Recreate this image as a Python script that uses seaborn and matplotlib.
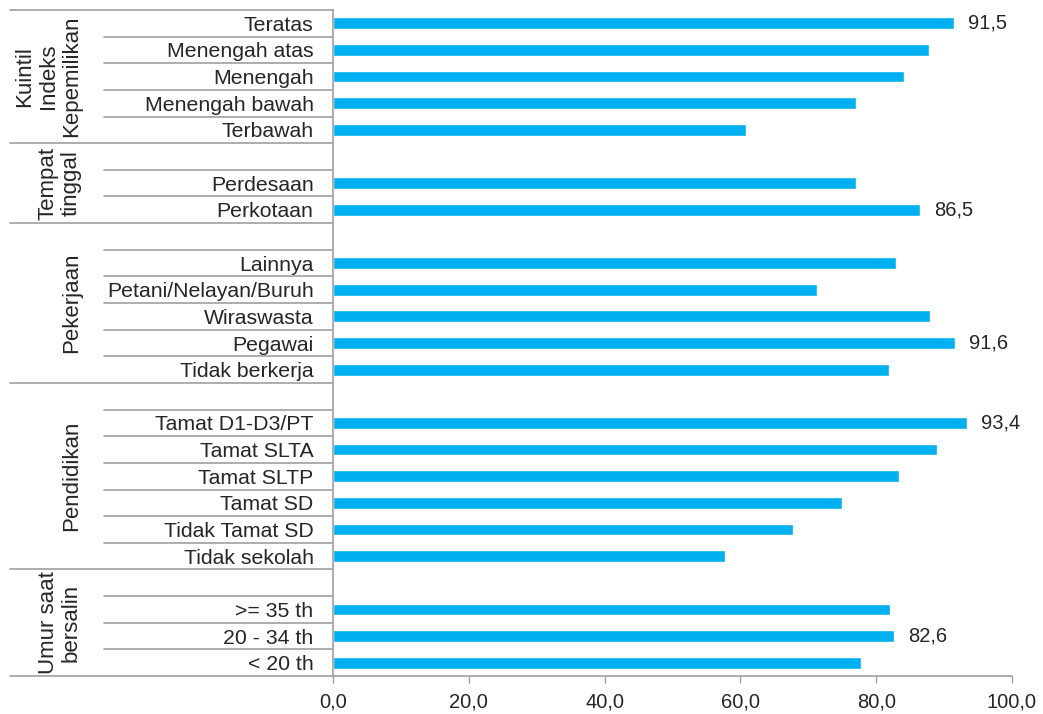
import matplotlib
matplotlib.use("Agg")
import matplotlib.pyplot as plt
import seaborn as sns
import pandas as pd
import numpy as np
from matplotlib.lines import Line2D
from matplotlib.ticker import FuncFormatter, FixedLocator

# ---------------- data ----------------
group_names = ["Kuintil\nIndeks\nKepemilikan", "Tempat\ntinggal", "Pekerjaan",
               "Pendidikan", "Umur saat\nbersalin"]
group_rows = [
    ["Teratas", "Menengah atas", "Menengah", "Menengah bawah", "Terbawah"],
    ["", "Perdesaan", "Perkotaan"],
    [" ", "Lainnya", "Petani/Nelayan/Buruh", "Wiraswasta", "Pegawai", "Tidak berkerja"],
    ["  ", "Tamat D1-D3/PT", "Tamat SLTA", "Tamat SLTP", "Tamat SD", "Tidak Tamat SD",
     "Tidak sekolah"],
    ["   ", ">= 35 th", "20 - 34 th", "< 20 th"],
]
categories = ["Teratas", "Menengah atas", "Menengah", "Menengah bawah", "Terbawah",
              "Perdesaan", "Perkotaan",
              "Lainnya", "Petani/Nelayan/Buruh", "Wiraswasta", "Pegawai", "Tidak berkerja",
              "Tamat D1-D3/PT", "Tamat SLTA", "Tamat SLTP", "Tamat SD", "Tidak Tamat SD",
              "Tidak sekolah",
              ">= 35 th", "20 - 34 th", "< 20 th"]
values = [91.5, 87.8, 84.1, 77.0, 60.8,
          77.0, 86.5,
          82.9, 71.3, 87.9, 91.6, 81.9,
          93.4, 89.0, 83.4, 75.0, 67.8, 57.8,
          82.1, 82.6, 77.7]
labeled = {"Teratas": "91,5", "Perkotaan": "86,5", "Pegawai": "91,6",
           "Tamat D1-D3/PT": "93,4", "20 - 34 th": "82,6"}
xticks = [0, 20, 40, 60, 80, 100]

# ---------------- style ----------------
sns.set_theme(style="white")
plt.rcParams["font.family"] = ["Liberation Sans", "DejaVu Sans"]
FS = 14.5
FS_CAT = 15.3
FS_GRP = 16
TXT = "#262626"
LINE = "#a0a0a0"
BAR = "#00B0F0"

order = [c for g in group_rows for c in g]
df = pd.DataFrame({"cat": categories, "val": values})

fig = plt.figure(figsize=(10.43, 7.14), dpi=100)
ax = fig.add_axes([333 / 1043, 1 - 676 / 714, (1012 - 333) / 1043, (676 - 10) / 714])

sns.barplot(data=df, y="cat", x="val", order=order, orient="h", color=BAR,
            saturation=1, width=0.44, ax=ax)

ax.set_xlim(0, 100)
ax.set_ylim(len(order) - 0.5, -0.5)
ax.set_xlabel("")
ax.set_ylabel("")

ax.xaxis.set_major_locator(FixedLocator(xticks))
ax.xaxis.set_major_formatter(FuncFormatter(lambda v, p: f"{v:.1f}".replace(".", ",")))
ax.tick_params(axis="x", direction="out", length=5, width=1, color=LINE,
               labelsize=FS, labelcolor=TXT, pad=7, bottom=True)
ax.tick_params(axis="y", length=0, labelsize=FS_CAT, labelcolor=TXT, pad=14)

for s in ["top", "right"]:
    ax.spines[s].set_visible(False)
for s in ["left", "bottom"]:
    ax.spines[s].set_color(LINE)
    ax.spines[s].set_linewidth(1.2)

# value labels
pos = {c: i for i, c in enumerate(order)}
for c, v in zip(categories, values):
    if c in labeled:
        ax.annotate(labeled[c], xy=(v, pos[c]), xytext=(10, 0), textcoords="offset points",
                    ha="left", va="center", fontsize=FS, color=TXT)

# table lines in the left margin
trans = ax.get_yaxis_transform()
axw = 1012 - 333
x_group = (10 - 333) / axw
x_row = (104 - 333) / axw
x_glabel = (82 - 333) / axw

start = 0
boundaries_group = [-0.5]
for g in group_rows:
    start += len(g)
    boundaries_group.append(start - 0.5)
for b in boundaries_group:
    ax.add_line(Line2D([x_group, 0], [b, b], transform=trans, color=LINE, lw=1.2,
                       clip_on=False))
for i in range(len(order) - 1):
    b = i + 0.5
    if b not in boundaries_group:
        ax.add_line(Line2D([x_row, 0], [b, b], transform=trans, color=LINE, lw=1.2,
                           clip_on=False))

# group labels
start = 0
for name, g in zip(group_names, group_rows):
    center = start + (len(g) - 1) / 2
    ax.text(x_glabel, center, name, transform=trans, rotation=90, ha="right",
            va="center", multialignment="center", fontsize=FS_GRP, color=TXT,
            linespacing=1.15)
    start += len(g)

fig.savefig("out.png", dpi=100)
